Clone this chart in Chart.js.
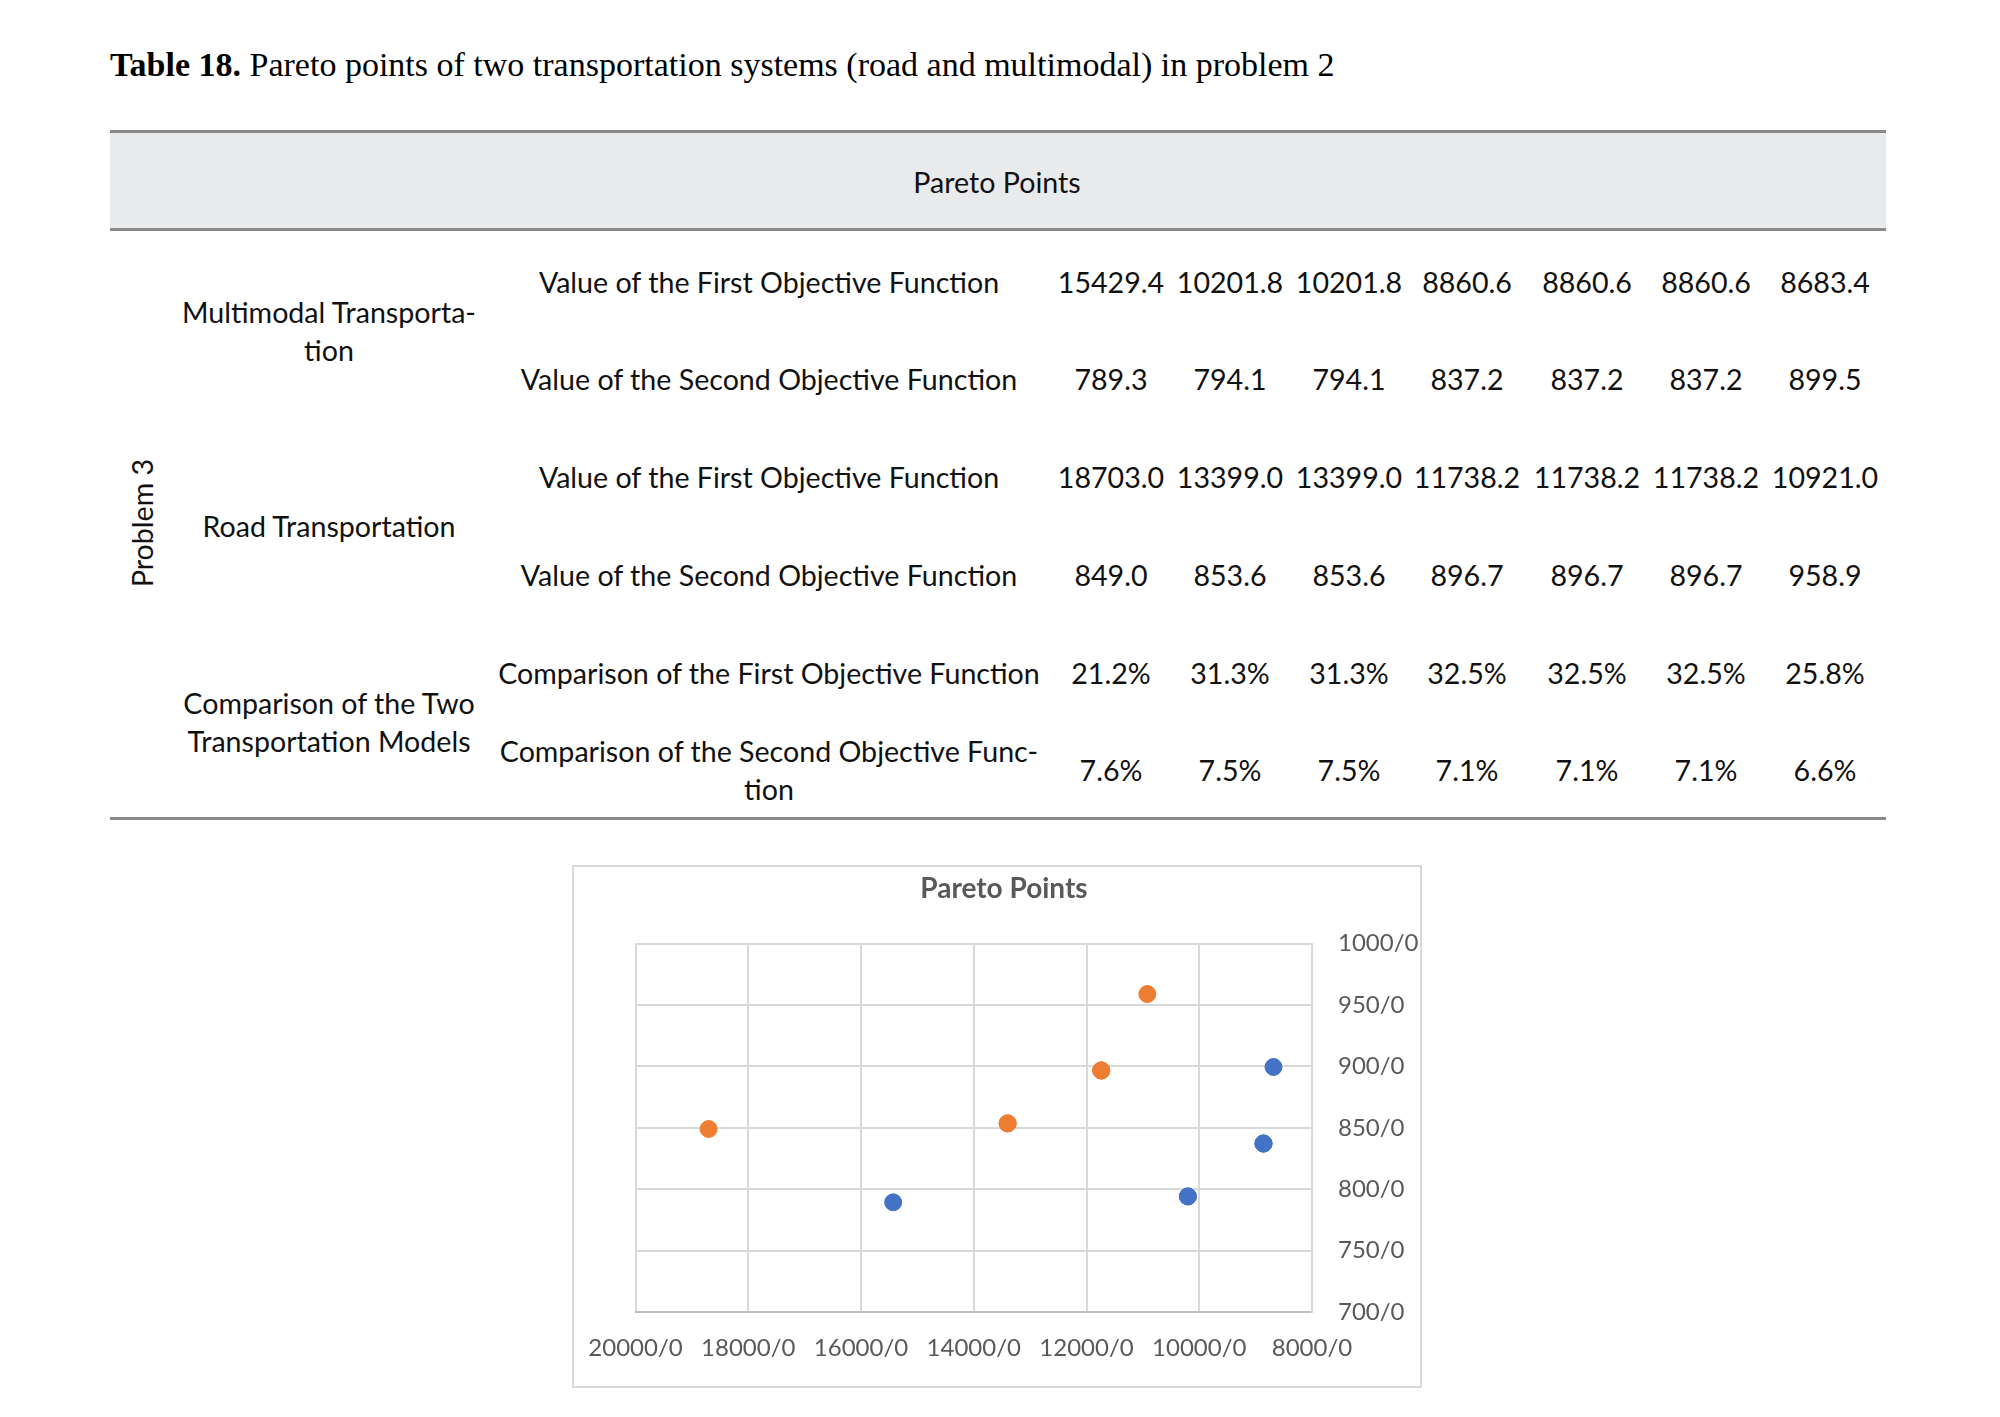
<!DOCTYPE html>
<html>
<head>
<meta charset="utf-8">
<script src="https://cdn.jsdelivr.net/npm/chart.js@4"></script>
<style>
  body { margin: 0; background: #fff; width: 2000px; height: 1417px; position: relative; overflow: hidden; }
  .t { position: absolute; font-family: Lato, "Open Sans", sans-serif; font-size: 28.6px; color: #111; white-space: nowrap; line-height: 38px; }
  .c { transform: translate(-50%, -50%); text-align: center; }
  .rule { position: absolute; left: 110px; width: 1776px; height: 3px; background: #8a8a8a; }
  #caption { position: absolute; left: 110px; top: 46px; font-family: "Liberation Serif", serif; font-size: 34px; color: #000; white-space: nowrap; }
  #box { position: absolute; left: 572px; top: 865px; width: 850px; height: 523px; border: 2px solid #d9d9d9; box-sizing: border-box; }
</style>
</head>
<body>
<div id="caption"><b>Table 18.</b> Pareto points of two transportation systems (road and multimodal) in problem 2</div>
<div style="position:absolute;left:110px;top:132px;width:1776px;height:98px;background:#e9eaec"></div>
<div class="rule" style="top:130px"></div>
<div class="rule" style="top:228px"></div>
<div class="rule" style="top:817px"></div>
<div class="t c" style="left:997px;top:182px">Pareto Points</div>
<div id="tbl"></div>
<div id="box"><canvas id="myChart"></canvas></div>
<script>
// table values
const multimodalFirst = [15429.4, 10201.8, 10201.8, 8860.6, 8860.6, 8860.6, 8683.4];
const multimodalSecond = [789.3, 794.1, 794.1, 837.2, 837.2, 837.2, 899.5];
const roadFirst = [18703.0, 13399.0, 13399.0, 11738.2, 11738.2, 11738.2, 10921.0];
const roadSecond = [849.0, 853.6, 853.6, 896.7, 896.7, 896.7, 958.9];
const compFirst = ['21.2%', '31.3%', '31.3%', '32.5%', '32.5%', '32.5%', '25.8%'];
const compSecond = ['7.6%', '7.5%', '7.5%', '7.1%', '7.1%', '7.1%', '6.6%'];

const xTicks = [20000, 18000, 16000, 14000, 12000, 10000, 8000];
const yTicks = [700, 750, 800, 850, 900, 950, 1000];

const colX = [1111, 1230, 1349, 1467, 1587, 1706, 1825];
const tbl = document.getElementById('tbl');
function put(html, x, y) {
  const d = document.createElement('div');
  d.className = 't c';
  d.style.left = x + 'px';
  d.style.top = y + 'px';
  d.innerHTML = html;
  tbl.appendChild(d);
  return d;
}
const rows = [
  ['Value of the First Objective Function', multimodalFirst.map(v => v.toFixed(1)), 282],
  ['Value of the Second Objective Function', multimodalSecond.map(v => v.toFixed(1)), 379],
  ['Value of the First Objective Function', roadFirst.map(v => v.toFixed(1)), 477],
  ['Value of the Second Objective Function', roadSecond.map(v => v.toFixed(1)), 575],
  ['Comparison of the First Objective Function', compFirst, 673],
  ['Comparison of the Second Objective Func-<br>tion', compSecond, 770]
];
rows.forEach((r, i) => {
  put(r[0], 769, i === 5 ? 770 : r[2]);
  r[1].forEach((v, j) => put(v, colX[j], r[2]));
});
put('Multimodal Transporta-<br>tion', 329, 331);
put('Road Transportation', 329, 526);
put('Comparison of the Two<br>Transportation Models', 329, 722);
put('Problem 3', 142, 523).style.transform = 'translate(-50%, -50%) rotate(-90deg)';

const pts = (xs, ys) => xs.map((x, i) => ({ x: x, y: ys[i] }));

const data = {
  datasets: [{
    label: 'Multimodal Transportation',
    data: pts(multimodalFirst, multimodalSecond),
    backgroundColor: '#4472C4',
    borderColor: '#4472C4',
    pointRadius: 8.5
  }, {
    label: 'Road Transportation',
    data: pts(roadFirst, roadSecond),
    backgroundColor: '#ED7D31',
    borderColor: '#ED7D31',
    pointRadius: 8.5
  }]
};

const tickFont = { family: 'Lato, "Open Sans", sans-serif', size: 24 };

const config = {
  type: 'scatter',
  data: data,
  options: {
    responsive: true,
    maintainAspectRatio: false,
    animation: false,
    layout: { padding: { left: 14, top: 0, right: 0, bottom: 0 } },
    plugins: {
      legend: { display: false },
      tooltip: { enabled: false },
      title: {
        display: true,
        text: 'Pareto Points',
        color: '#595959',
        font: { family: 'Lato, "Open Sans", sans-serif', size: 28, weight: 'bold', lineHeight: 1.2 },
        padding: { top: 5, bottom: 38 }
      }
    },
    scales: {
      x: {
        type: 'linear',
        reverse: true,
        min: 8000,
        max: 20000,
        afterBuildTicks: s => { s.ticks = xTicks.map(v => ({ value: v })); },
        afterFit: s => { s.height = 74; },
        // tall line height pushes the labels down without widening the side padding
        ticks: { color: '#595959', font: { family: tickFont.family, size: 24, lineHeight: 3 }, padding: 0, maxRotation: 0, callback: v => v + '/0' },
        grid: { color: '#d9d9d9', lineWidth: 2, drawTicks: false },
        border: { color: '#bfbfbf', width: 2 }
      },
      y: {
        type: 'linear',
        position: 'right',
        min: 700,
        max: 1000,
        afterBuildTicks: s => { s.ticks = yTicks.map(v => ({ value: v })); },
        afterFit: s => { s.width = 108; },
        ticks: { color: '#595959', font: tickFont, padding: 26, callback: v => v + '/0' },
        grid: { color: '#d9d9d9', lineWidth: 2, drawTicks: false },
        border: { color: '#d9d9d9', width: 2 }
      },
      // empty left spacer so the plot sits where the original does
      yLeft: {
        type: 'linear',
        position: 'left',
        afterFit: s => { s.width = 47.5; },
        ticks: { display: false },
        grid: { display: false },
        border: { display: false }
      }
    }
  }
};

const myChart = new Chart(document.getElementById('myChart'), config);
</script>
</body>
</html>
